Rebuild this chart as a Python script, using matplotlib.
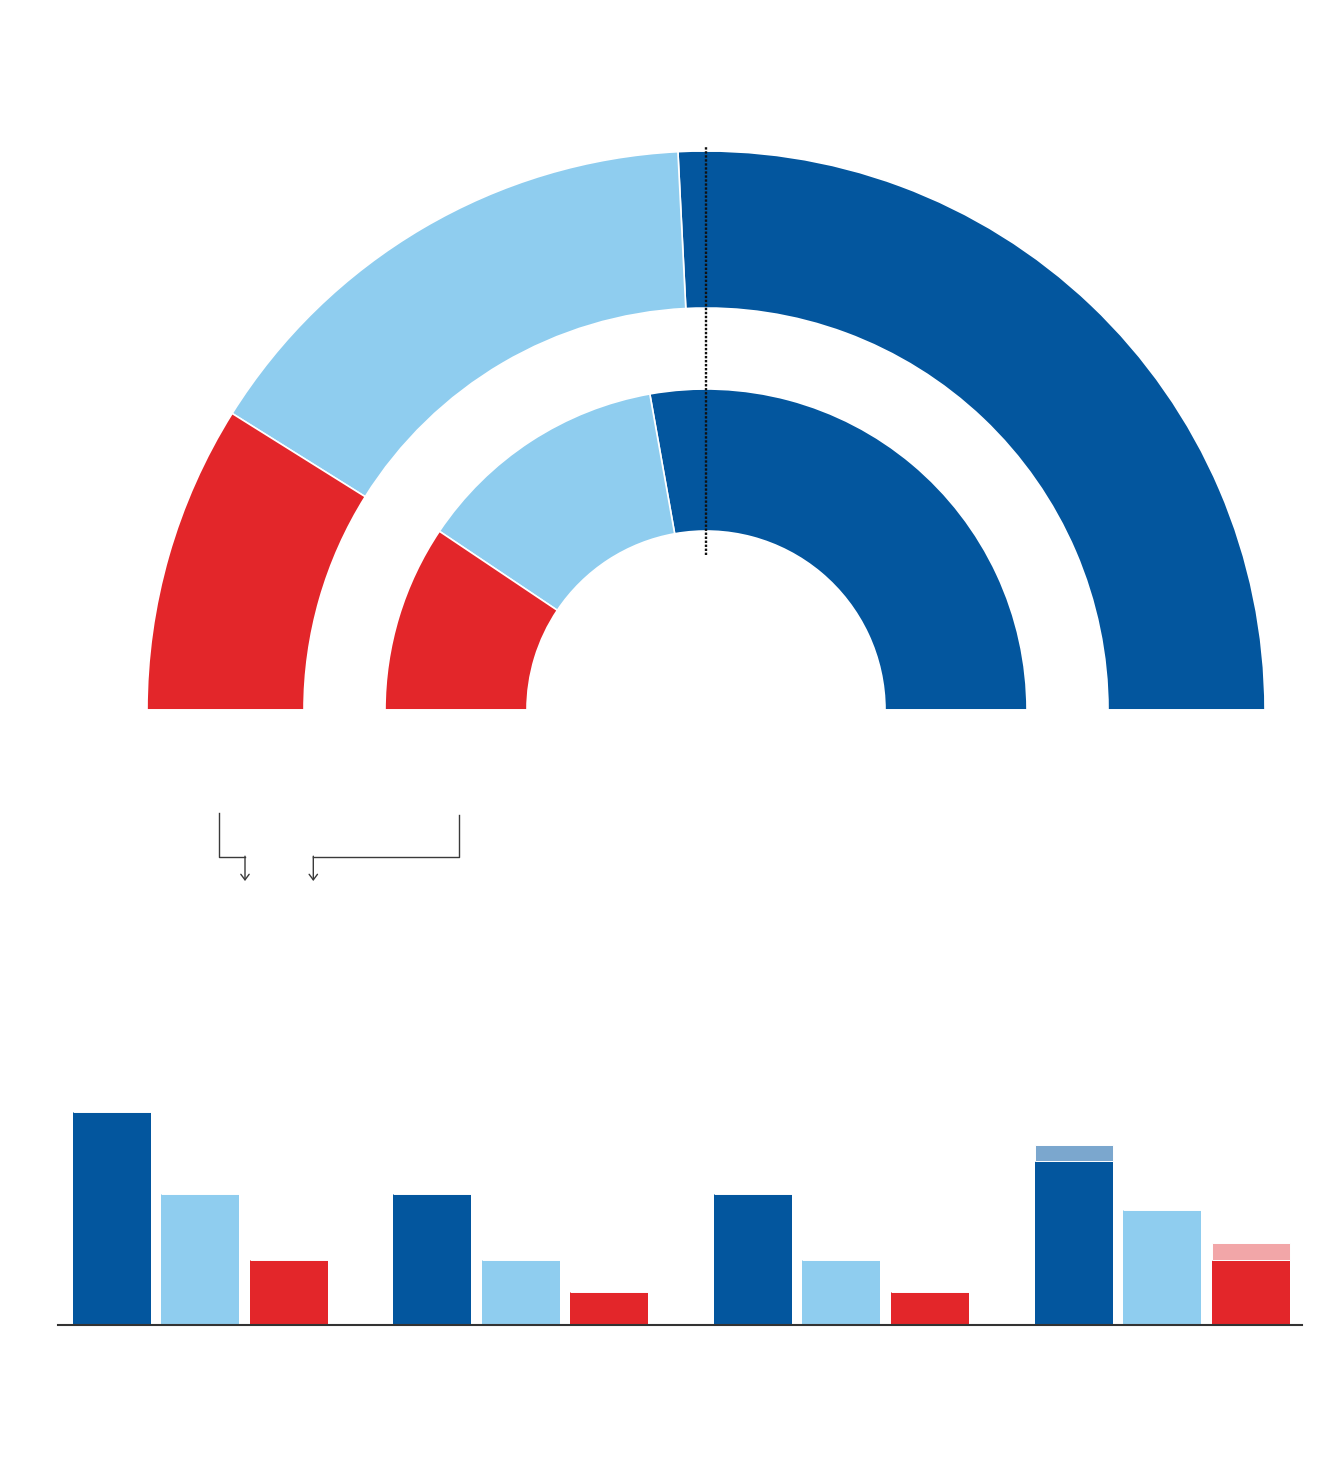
# Half-donut seat rings + grouped bars

import numpy as np
import matplotlib
matplotlib.use('Agg')
import matplotlib.pyplot as plt

# data (shares in %, bars in seats)
parties = ['dark', 'light', 'red']
outer_share = [51.6, 30.6, 17.8]
inner_share = [55.6, 25.6, 18.8]
majority = 0.5

groups = ['A', 'B', 'C', 'D']
bar_dark = [13, 8, 8, 10]
bar_light = [8, 4, 4, 7]
bar_red = [4, 2, 2, 4]
extra_dark = [0, 0, 0, 1]
extra_light = [0, 0, 0, 0]
extra_red = [0, 0, 0, 1]

colors = ['#03569E', '#8FCDEF', '#E3262A']
pale = ['#7BA7CE', '#C6E6F7', '#F2A6A8']

W, H = 1320, 1470
fig = plt.figure(figsize=(W / 100, H / 100), dpi=100)

# ---- rings ----
R = 559.0
cx, cy = 706, 710
ax = fig.add_axes([(cx - R) / W, (H - cy) / H, 2 * R / W, 1.02 * R / H])
for vals, rad, width in [(outer_share, 1.0, 157 / R), (inner_share, 321 / R, 142 / R)]:
    ax.pie(vals + [sum(vals)], radius=rad, startangle=0, counterclock=True,
           colors=colors + ['none'],
           wedgeprops=dict(width=width, edgecolor='white', linewidth=1.2))
ang = np.pi * (1 - majority)
r = np.array([0.277, 1.007])
ax.plot(r * np.cos(ang), r * np.sin(ang), color='#111111', lw=1.7,
        linestyle=(0, (1, 0.7)))
ax.set_xlim(-1, 1)
ax.set_ylim(0, 1.02)
ax.set_aspect('auto')
ax.axis('off')

# ---- bars ----
unit = 16.36
x0_px, x1_px = 58, 1302
pitch = 320.67
ax2 = fig.add_axes([x0_px / W, (H - 1325) / H, (x1_px - x0_px) / W, 225 / H])
x = np.arange(len(groups))
off = 88.5 / pitch
bw = 78 / pitch
for i, (vals, extra) in enumerate([(bar_dark, extra_dark), (bar_light, extra_light),
                                   (bar_red, extra_red)]):
    ax2.bar(x + (i - 1) * off, vals, width=bw, color=colors[i])
    ax2.bar(x + (i - 1) * off, extra, bottom=vals, width=bw, color=pale[i],
            edgecolor='white', linewidth=0.7)
ax2.set_xlim((x0_px - 200) / pitch, (x1_px - 200) / pitch)
ax2.set_ylim(0, 225 / unit)
for s in ['top', 'left', 'right']:
    ax2.spines[s].set_visible(False)
ax2.spines['bottom'].set_color('#333333')
ax2.spines['bottom'].set_linewidth(1.5)
ax2.set_xticks([])
ax2.set_yticks([])
ax2.patch.set_alpha(0)

# ---- connector arrows ----
ax3 = fig.add_axes([0, 0, 1, 1])
ax3.set_xlim(0, W)
ax3.set_ylim(H, 0)
ax3.axis('off')
ax3.patch.set_alpha(0)
lc = '#3a3a3a'
ax3.plot([218.5, 218.5, 245], [812.5, 856.7, 856.7], color=lc, lw=1.0)
ax3.plot([459, 459, 313.3], [815, 856.7, 856.7], color=lc, lw=1.0)
for xa in [245, 313.3]:
    ax3.annotate('', xy=(xa, 881), xytext=(xa, 856.2),
                 arrowprops=dict(arrowstyle='->,head_length=0.4,head_width=0.3',
                                 color=lc, lw=1.0, shrinkA=0, shrinkB=0))

plt.savefig('out.png', dpi=100)
